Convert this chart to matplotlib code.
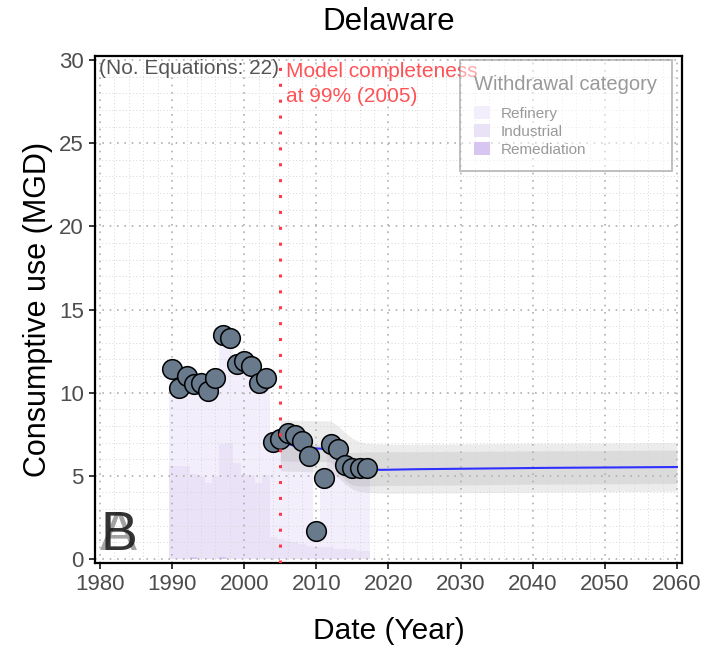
import matplotlib
matplotlib.use("Agg")
import matplotlib.pyplot as plt
import numpy as np

plt.rcParams['font.family'] = ['Liberation Sans', 'DejaVu Sans']

# ---- datos ----
years = [1990, 1991, 1992, 1993, 1994, 1995, 1996, 1997, 1998, 1999, 2000, 2001, 2002, 2003,
         2004, 2005, 2006, 2007, 2008, 2009, 2010, 2011, 2012, 2013, 2014, 2015, 2016, 2017]

# consumo total observado (puntos)
consumo = [11.44, 10.28, 11.0, 10.5, 10.6, 10.1, 10.9, 13.45, 13.3, 11.7, 11.9, 11.6, 10.6, 10.9,
           7.05, 7.2, 7.6, 7.45, 7.1, 6.2, 1.7, 4.9, 6.9, 6.6, 5.65, 5.5, 5.45, 5.5]

# barras apiladas por categoria
refineria = [5.87, 4.71, 5.43, 5.38, 5.63, 5.53, 5.93, 6.53, 6.33, 5.93, 6.83, 6.53, 6.03, 5.83,
             5.75, 6.0, 6.5, 6.45, 6.2, 5.4, 1.0, 4.2, 6.2, 6.0, 5.05, 4.9, 4.95, 5.0]
industrial = [5.57, 5.57, 5.57, 4.97, 4.97, 4.57, 4.97, 6.77, 6.97, 5.77, 5.07, 5.07, 4.57, 5.07,
              1.3, 1.2, 1.1, 1.0, 0.9, 0.8, 0.7, 0.7, 0.7, 0.6, 0.6, 0.6, 0.5, 0.5]
remediacion = [0, 0, 0, 0.15, 0, 0, 0, 0.15, 0, 0, 0, 0, 0, 0,
               0, 0, 0, 0, 0, 0, 0, 0, 0, 0, 0, 0, 0, 0]

# ajuste del modelo
fit_years = [2005, 2006, 2007, 2008, 2010, 2011, 2012, 2013, 2014, 2015, 2016, 2017, 2019,
             2024, 2042, 2060]
fit_vals = [6.92, 6.92, 6.8, 6.7, 6.65, 6.62, 6.55, 6.2, 5.8, 5.55, 5.45, 5.4, 5.36,
            5.4, 5.48, 5.53]

# bandas de prediccion
band_years = [2005, 2012, 2013, 2014, 2015, 2016, 2017, 2020, 2030, 2040, 2050, 2060]
outer_lo = [5.3, 5.2, 4.9, 4.5, 4.2, 4.05, 4.0, 3.95, 3.98, 4.02, 4.05, 4.08]
outer_hi = [8.35, 8.3, 8.0, 7.6, 7.25, 7.05, 6.95, 6.9, 6.92, 6.95, 6.97, 7.0]
inner_lo = [5.9, 5.85, 5.3, 4.7, 4.45, 4.4, 4.4, 4.42, 4.45, 4.5, 4.52, 4.55]
inner_hi = [6.9, 6.85, 6.6, 6.4, 6.4, 6.42, 6.45, 6.45, 6.47, 6.5, 6.52, 6.55]

anio_completitud = 2005
x_ticks = [1980, 1990, 2000, 2010, 2020, 2030, 2040, 2050, 2060]
y_ticks = [0, 5, 10, 15, 20, 25, 30]

# ---- figura ----
fig = plt.figure(figsize=(7.07, 6.49), dpi=100)
ax = fig.add_axes([0.1344, 0.1325, 0.8302, 0.7812])

col_ref = '#f3eefc'
col_ind = '#eae2f6'
col_rem = '#d8c6f2'

b_rem = np.zeros(len(years))
b_ind = b_rem + np.array(remediacion)
b_ref = b_ind + np.array(industrial)
ax.bar(years, refineria, width=1.0, bottom=b_ref, color=col_ref, linewidth=0, zorder=0.2, label='Refinery')
ax.bar(years, industrial, width=1.0, bottom=b_ind, color=col_ind, linewidth=0, zorder=0.2, label='Industrial')
ax.bar(years, remediacion, width=1.0, bottom=b_rem, color=col_rem, linewidth=0, zorder=0.2, label='Remediation')

ax.fill_between(band_years, outer_lo, outer_hi, color='grey', alpha=0.15, linewidth=0, zorder=1)
ax.fill_between(band_years, inner_lo, inner_hi, color='grey', alpha=0.15, linewidth=0, zorder=1.1)
ax.plot(fit_years, fit_vals, color='#3030ff', lw=1.5, zorder=2)

ax.scatter(years, consumo, s=200, facecolor='#687a8c', edgecolor='black', linewidth=1.1, zorder=3)

ax.axvline(anio_completitud, color='#ff3b4a', lw=2.2, linestyle=(0, (1, 4.2)), zorder=4)

# textos
ax.text(0.007, 0.995, '(No. Equations: 22)', transform=ax.transAxes, ha='left', va='top',
        fontsize=15, color='#555555', zorder=5)
ax.text(anio_completitud + 0.8, 29.9, 'Model completeness\nat 99% (2005)', ha='left', va='top',
        fontsize=15, color='#ff5257', linespacing=1.45, zorder=5)
ax.text(1982.6, 0.56, 'A', ha='center', va='baseline', fontsize=40, color='#8c8c8c', alpha=0.8, zorder=5)
ax.text(1982.6, 0.56, 'B', ha='center', va='baseline', fontsize=40, color='#1e1e1e', alpha=0.9, zorder=5)

# ejes
ax.set_xlim(1979.3, 2060.7)
ax.set_ylim(-0.24, 30.24)
ax.set_xticks(x_ticks)
ax.set_yticks(y_ticks)
ax.set_xticks(np.arange(1980, 2061, 2), minor=True)
ax.set_yticks(np.arange(0, 31, 1), minor=True)
ax.tick_params(which='major', direction='out', length=4.5, width=1.1, color='black',
               labelsize=16, labelcolor='#4d4d4d', pad=3.5)
ax.tick_params(which='minor', length=0)
ax.grid(which='major', color='#b0b0b0', lw=1.2, linestyle=(0, (1, 3.4)))
ax.grid(which='minor', color='#d6d6d6', lw=0.7, linestyle=(0, (1, 2.5)))
for s in ax.spines.values():
    s.set_linewidth(1.6)
    s.set_color('black')

ax.set_xlabel('Date (Year)', fontsize=21.5, labelpad=16)
ax.set_ylabel('Consumptive use (MGD)', fontsize=22, labelpad=4)
ax.set_title('Delaware', fontsize=22.5, pad=19)

leg = ax.legend(loc='upper right', bbox_to_anchor=(0.983, 0.992), borderaxespad=0,
                title='Withdrawal category', title_fontsize=14.5, fontsize=11,
                handlelength=1.0, handleheight=0.92, handletextpad=0.7, labelspacing=0.22,
                borderpad=0.95, alignment='left', fancybox=False, framealpha=0.5,
                edgecolor='#808080', facecolor='white')
leg._legend_box.sep = 9  # mas aire entre titulo y entradas
leg.get_frame().set_linewidth(1.4)
leg.get_title().set_color('#999999')
for t in leg.get_texts():
    t.set_color('#999999')

fig.savefig('out.png', dpi=100)
